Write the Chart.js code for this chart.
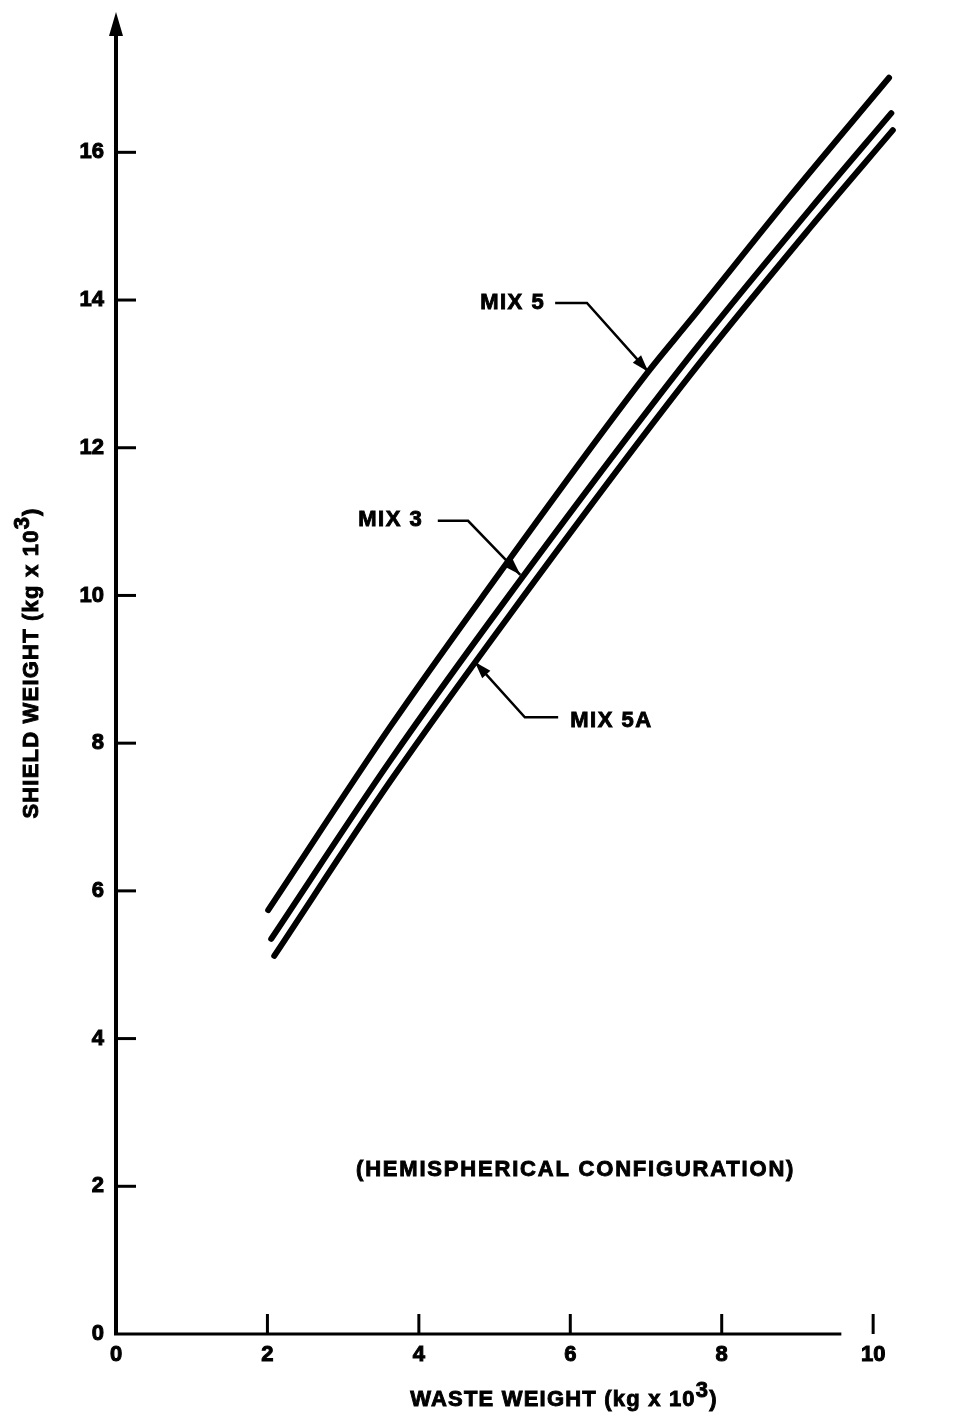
<!DOCTYPE html>
<html><head><meta charset="utf-8">
<script src="https://cdn.jsdelivr.net/npm/chart.js@4.4.1/dist/chart.umd.min.js"></script>
<style>html,body{margin:0;padding:0;background:#fff;}#wrap{width:980px;height:1413px;}</style>
</head><body><div id="wrap"><canvas id="c" width="980" height="1413"></canvas></div>
<script>
// ---- data ----
const xTicks = [0, 2, 4, 6, 8, 10];
const yTicks = [0, 2, 4, 6, 8, 10, 12, 14, 16];
const seriesNames = ['MIX 5', 'MIX 3', 'MIX 5A'];
const mix5X  = [2.01, 3.62, 4.81, 7.03, 7.58, 8.90, 10.21];
const mix5Y  = [5.74, 8.22, 9.94, 13.03, 13.72, 15.40, 17.01];
const mix3X  = [2.05, 3.62, 5.14, 7.58, 9.16, 10.24];
const mix3Y  = [5.35, 7.76, 9.93, 13.24, 15.22, 16.53];
const mix5aX = [2.09, 3.62, 5.21, 7.58, 9.16, 10.26];
const mix5aY = [5.12, 7.48, 9.75, 12.98, 14.97, 16.30];
const xTitleParts = ['WASTE WEIGHT (kg x 10', '3', ')'];
const yTitleParts = ['SHIELD WEIGHT (kg x 10', '3', ')'];
const noteText = '(HEMISPHERICAL CONFIGURATION)';

// annotation placement (in data units)
const callouts = [
  {text: seriesNames[0], at: [4.81, 13.96], path: [[5.80, 13.96], [6.22, 13.96], [7.03, 13.03]]},
  {text: seriesNames[1], at: [3.20, 11.02], path: [[4.25, 11.01], [4.65, 11.01], [5.34, 10.28]]},
  {text: seriesNames[2], at: [6.00, 8.30],  path: [[5.84, 8.35], [5.40, 8.35], [4.74, 9.10]]}
];
const notePos = [3.17, 2.22];

const toPts = (xs, ys) => xs.map((x, i) => ({x, y: ys[i]}));
const FONT = '"Liberation Sans", Arial, Helvetica, sans-serif';

function txt(ctx, s, x, y) { ctx.strokeText(s, x, y); ctx.fillText(s, x, y); }
function drawRich(ctx, parts, cx, baseY, supRaise) {
  const w = parts.reduce((a, p) => a + ctx.measureText(p).width, 0);
  let x = cx - w / 2;
  parts.forEach((p, i) => {
    txt(ctx, p, x, baseY + (i === 1 ? -supRaise : 0));
    x += ctx.measureText(p).width;
  });
}

const decor = {
  id: 'decor',
  afterDraw(chart) {
    const ctx = chart.ctx, xs = chart.scales.x, ys = chart.scales.y, ca = chart.chartArea;
    const X = v => xs.getPixelForValue(v), Y = v => ys.getPixelForValue(v);
    const x0 = X(0), y0 = Y(0);
    ctx.save();
    ctx.strokeStyle = '#000'; ctx.fillStyle = '#000';
    // y axis with arrow
    ctx.lineWidth = 4;
    ctx.beginPath(); ctx.moveTo(x0, y0 + 1); ctx.lineTo(x0, ca.top + 20); ctx.stroke();
    ctx.beginPath(); ctx.moveTo(x0, ca.top); ctx.lineTo(x0 - 7, ca.top + 24); ctx.lineTo(x0 + 7, ca.top + 24); ctx.closePath(); ctx.fill();
    // x axis
    ctx.lineWidth = 3;
    ctx.beginPath(); ctx.moveTo(x0 - 2, y0); ctx.lineTo(X(9.58), y0); ctx.stroke();
    // tick marks
    xTicks.filter(v => v > 0).forEach(v => {
      ctx.beginPath(); ctx.moveTo(X(v), y0); ctx.lineTo(X(v), y0 - 20); ctx.stroke();
    });
    yTicks.filter(v => v > 0).forEach(v => {
      ctx.beginPath(); ctx.moveTo(x0, Y(v)); ctx.lineTo(x0 + 20, Y(v)); ctx.stroke();
    });
    // callouts
    ctx.font = 'bold 22px ' + FONT;
    ctx.letterSpacing = '1.5px';
    ctx.textBaseline = 'middle'; ctx.textAlign = 'left';
    callouts.forEach(c => {
      ctx.lineWidth = 0.9;
      txt(ctx, c.text, X(c.at[0]), Y(c.at[1]));
      const pts = c.path.map(p => [X(p[0]), Y(p[1])]);
      ctx.lineWidth = 2.5; ctx.lineCap = 'butt';
      ctx.beginPath(); ctx.moveTo(pts[0][0], pts[0][1]);
      for (let i = 1; i < pts.length; i++) ctx.lineTo(pts[i][0], pts[i][1]);
      ctx.stroke();
      const a = pts[pts.length - 2], b = pts[pts.length - 1];
      const ang = Math.atan2(b[1] - a[1], b[0] - a[0]);
      const L = 17, H = 5.5;
      ctx.beginPath();
      ctx.moveTo(b[0], b[1]);
      ctx.lineTo(b[0] - L * Math.cos(ang) + H * Math.sin(ang), b[1] - L * Math.sin(ang) - H * Math.cos(ang));
      ctx.lineTo(b[0] - L * Math.cos(ang) - H * Math.sin(ang), b[1] - L * Math.sin(ang) + H * Math.cos(ang));
      ctx.closePath(); ctx.fill();
    });
    // note
    ctx.lineWidth = 0.9;
    ctx.letterSpacing = '1.8px';
    txt(ctx, noteText, X(notePos[0]), Y(notePos[1]));
    // axis titles
    ctx.letterSpacing = '1.2px';
    ctx.textBaseline = 'alphabetic';
    drawRich(ctx, xTitleParts, 564, 1406, 9);
    ctx.save();
    ctx.translate(38, 663); ctx.rotate(-Math.PI / 2);
    drawRich(ctx, yTitleParts, 0, 0, 9);
    ctx.restore();
    ctx.restore();
  }
};

const lineDs = (label, xs, ys) => ({
  label, data: toPts(xs, ys), showLine: true, borderColor: '#000', backgroundColor: '#000',
  borderWidth: 6, pointRadius: 0, cubicInterpolationMode: 'monotone', borderCapStyle: 'round', fill: false
});

const tickFont = {family: FONT, size: 22, weight: 'bold'};
new Chart(document.getElementById('c'), {
  type: 'scatter',
  data: {datasets: [
    lineDs(seriesNames[0], mix5X, mix5Y),
    lineDs(seriesNames[1], mix3X, mix3Y),
    lineDs(seriesNames[2], mix5aX, mix5aY)
  ]},
  options: {
    responsive: false, animation: false, devicePixelRatio: 1,
    layout: {padding: {left: 0, top: 12, right: 69, bottom: 0}},
    plugins: {legend: {display: false}, tooltip: {enabled: false}},
    scales: {
      x: {
        type: 'linear', min: 0, max: 10.5,
        grid: {display: false, drawTicks: false}, border: {display: false},
        afterBuildTicks: s => { s.ticks = xTicks.map(v => ({value: v})); },
        afterFit: s => { s.height = 79; s.paddingLeft = 0; s.paddingRight = 0; },
        ticks: {color: '#000', padding: 8, maxRotation: 0, font: tickFont, textStrokeColor: '#000', textStrokeWidth: 1}
      },
      y: {
        type: 'linear', min: 0, max: 17.9,
        grid: {display: false, drawTicks: false}, border: {display: false},
        afterBuildTicks: s => { s.ticks = yTicks.map(v => ({value: v})); },
        afterFit: s => { s.width = 116; s.paddingTop = 0; s.paddingBottom = 0; },
        ticks: {color: '#000', padding: 12, font: tickFont, textStrokeColor: '#000', textStrokeWidth: 1}
      }
    }
  },
  plugins: [decor]
});
</script></body></html>
